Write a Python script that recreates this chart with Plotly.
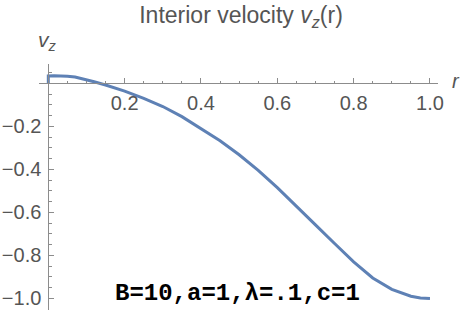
import plotly.graph_objects as go

# data
r_vals = [0, 0, 0.015, 0.03, 0.05, 0.07, 0.1, 0.12, 0.15, 0.2, 0.25, 0.3, 0.35, 0.4, 0.45, 0.5,
          0.55, 0.6, 0.65, 0.7, 0.75, 0.8, 0.85, 0.9, 0.95, 0.975, 1.0]
vz_vals = [0, 0.034, 0.035, 0.035, 0.033, 0.029, 0.017, 0.007, -0.008, -0.036, -0.07, -0.108,
           -0.155, -0.21, -0.267, -0.332, -0.405, -0.485, -0.57, -0.658, -0.745, -0.83,
           -0.905, -0.958, -0.99, -0.998, -1.0]

x_ticks = [0.2, 0.4, 0.6, 0.8, 1.0]
y_ticks = [-1.0, -0.8, -0.6, -0.4, -0.2]

X_RANGE = [-0.0244, 1.021]
Y_RANGE = [-1.054, 0.0898]

W, H = 464, 313
ML, MR, MT, MB = 39, 26, 64, 3

gray = "#555555"
axis_col = "#8c8c8c"

fig = go.Figure()
fig.add_trace(go.Scatter(x=r_vals, y=vz_vals, mode="lines",
                         line=dict(color="#5E81B5", width=3),
                         hoverinfo="skip", cliponaxis=False))

x_pos = (0 - Y_RANGE[0]) / (Y_RANGE[1] - Y_RANGE[0])
y_pos = (0 - X_RANGE[0]) / (X_RANGE[1] - X_RANGE[0])

fig.update_layout(
    width=W, height=H,
    margin=dict(l=ML, r=MR, t=MT, b=MB, autoexpand=False),
    paper_bgcolor="white", plot_bgcolor="white",
    showlegend=False,
    font=dict(family="Liberation Sans, Arial, sans-serif", color=gray),
    title=dict(text="Interior velocity <i>v<sub>z</sub></i>(r)",
               x=241 / W, xanchor="center", y=1 - 15 / H, yanchor="middle",
               automargin=False,
               font=dict(size=23, color=gray)),
    xaxis=dict(range=X_RANGE, anchor="free", position=x_pos, showgrid=False, zeroline=False,
               automargin=False,
               showline=True, linecolor=axis_col, linewidth=1,
               tickvals=x_ticks, ticktext=[f"{v:.1f}" for v in x_ticks],
               ticks="inside", ticklen=5, tickcolor=axis_col, tickwidth=1,
               tickfont=dict(size=20, color=gray), ticklabelstandoff=2,
               minor=dict(ticks="inside", dtick=0.05, tick0=0, ticklen=2.5, tickcolor=axis_col)),
    yaxis=dict(range=Y_RANGE, anchor="free", position=y_pos, showgrid=False, zeroline=False,
               automargin=False,
               showline=True, linecolor=axis_col, linewidth=1,
               tickvals=y_ticks, ticktext=[f"\u2212{abs(v):.1f}" for v in y_ticks],
               ticks="inside", ticklen=5, tickcolor=axis_col, tickwidth=1,
               tickfont=dict(size=20, color=gray), ticklabelstandoff=3,
               minor=dict(ticks="inside", dtick=0.05, tick0=0, ticklen=2.5, tickcolor=axis_col)),
)

def px_to_paper(px, py):
    return (px - ML) / (W - ML - MR), (H - MB - py) / (H - MT - MB)

ax, ay = px_to_paper(47, 41)
fig.add_annotation(x=ax, y=ay, xref="paper", yref="paper", showarrow=False,
                   text="<i>v<sub>z</sub></i>", font=dict(size=21, color=gray),
                   xanchor="center", yanchor="middle")
ax, ay = px_to_paper(456, 81)
fig.add_annotation(x=ax, y=ay, xref="paper", yref="paper", showarrow=False,
                   text="<i>r</i>", font=dict(size=20, color=gray),
                   xanchor="center", yanchor="middle")
ax, ay = px_to_paper(237.5, 293)
fig.add_annotation(x=ax, y=ay, xref="paper", yref="paper", showarrow=False,
                   text="<b>B=10,a=1,λ=.1,c=1</b>",
                   font=dict(size=24, color="black", family="Liberation Mono, Courier New, monospace"),
                   xanchor="center", yanchor="middle")

fig.write_html("out.html", config={"displayModeBar": False},
               post_script="document.body.style.margin='0';document.body.style.padding='0';")
